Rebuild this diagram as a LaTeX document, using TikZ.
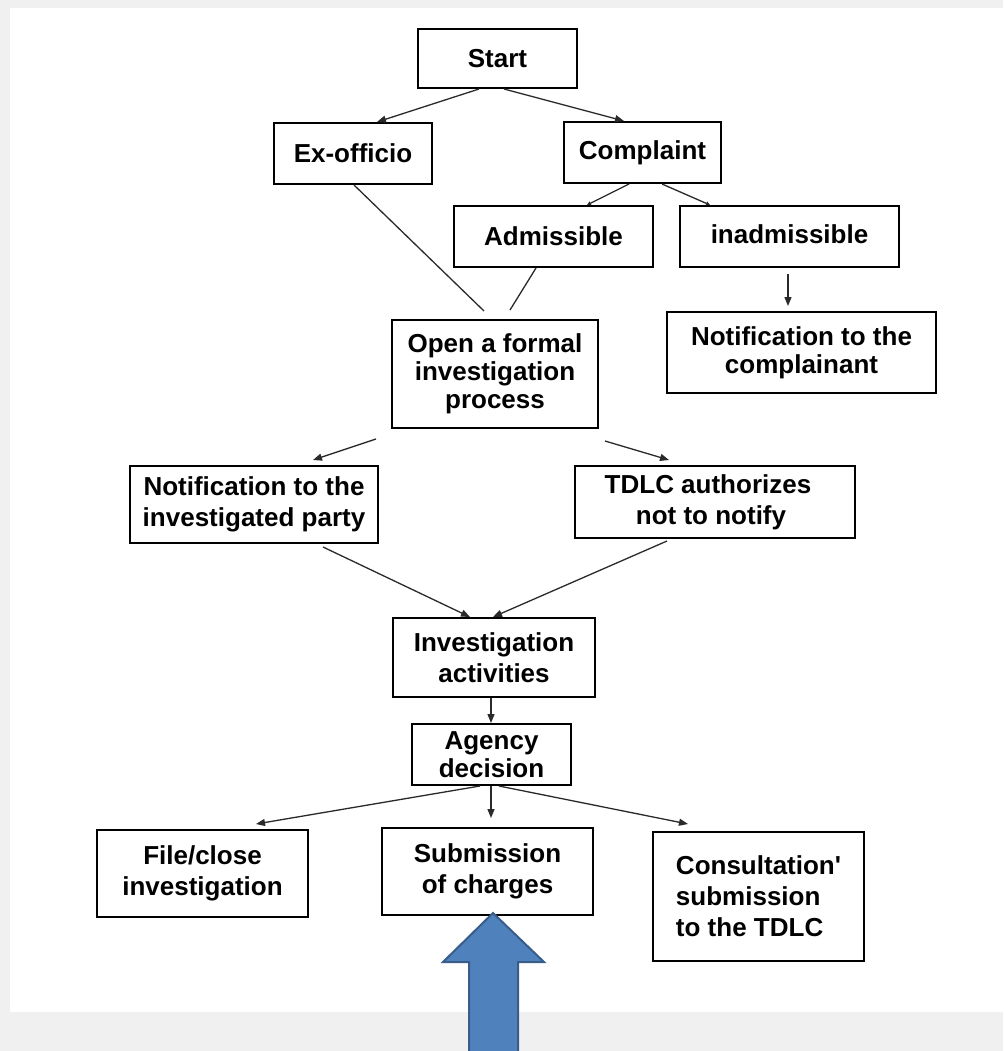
\documentclass[tikz,border=0pt]{standalone}
\usepackage{fontspec}
\setmainfont{Liberation Sans}
\usetikzlibrary{arrows.meta}
\definecolor{bggray}{HTML}{F0F0F0}
\definecolor{arrowfill}{HTML}{4F81BD}
\definecolor{arrowline}{HTML}{385D8A}
\definecolor{conn}{HTML}{2A2A2A}
\begin{document}
\begin{tikzpicture}[x=1pt,y=-1pt,
  box/.style={draw=black, line width=2pt, fill=white, inner sep=0pt, align=center,
    font=\fontsize{26}{31}\selectfont\bfseries},
  tight/.style={font=\fontsize{26}{28}\selectfont\bfseries},
  arr/.style={draw=conn, line width=1.3pt, -{Triangle[length=9pt,width=7pt]}},
  smallarr/.style={draw=conn, line width=1.3pt, -{Triangle[length=4pt,width=4pt]}},
  plain/.style={draw=conn, line width=1.3pt}]
\useasboundingbox (0,0) rectangle (1003,1051);
\fill[bggray] (0,0) rectangle (1003,1051);
\fill[white] (10,8) rectangle (1003,1012);

\node[box, minimum width=159pt, minimum height=59pt] (start) at (497.5,58.5) {Start};
\node[box, minimum width=158pt, minimum height=61pt] (exo) at (353,153.5) {Ex-officio};
\node[box, minimum width=157pt, minimum height=61pt] (comp) at (642.5,152.5) {Complaint};
\node[box, minimum width=199pt, minimum height=61pt] (adm) at (553.5,236.5) {Admissible};
\node[box, minimum width=219pt, minimum height=61pt] (inadm) at (789.5,236.5) {\raisebox{5pt}{inadmissible}};
\node[box, tight, minimum width=206pt, minimum height=108pt] (open) at (495,374) {Open a formal\\investigation\\process};
\node[box, tight, minimum width=269pt, minimum height=81pt] (notc) at (801.5,352.5) {Notification to the\\complainant};
\node[box, minimum width=248pt, minimum height=77pt] (notinv) at (254,504.5) {Notification to the\\investigated party};
\node[box, minimum width=280pt, minimum height=72pt] (tdlc) at (715,502) {TDLC authorizes\hspace*{14pt}\\not to notify\hspace*{8pt}};
\node[box, minimum width=202pt, minimum height=79pt] (invact) at (494,657.5) {Investigation\\activities};
\node[box, tight, minimum width=159pt, minimum height=61pt] (agency) at (491.5,754.5) {Agency\\decision};
\node[box, minimum width=211pt, minimum height=87pt] (file) at (202.5,873.5) {File/close\\investigation};
\node[box, minimum width=211pt, minimum height=87pt] (subm) at (487.5,871.5) {Submission\\of charges};
\node[box, minimum width=211pt, minimum height=129pt, align=left] (cons) at (758.5,896.5) {Consultation\textquotesingle\\submission\\to the TDLC};

\draw[arr] ([xshift=-18.5pt]start.south) -- ([xshift=24pt]exo.north);
\draw[arr] ([xshift=6.5pt]start.south) -- ([xshift=-18.5pt]comp.north);
\draw[smallarr] ([xshift=-13.5pt]comp.south) -- ([xshift=33.5pt]adm.north);
\draw[smallarr] ([xshift=19.5pt]comp.south) -- ([xshift=-79.5pt]inadm.north);
\draw[plain] ([xshift=1pt]exo.south) -- ([xshift=-11pt,yshift=8pt]open.north);
\draw[plain] ([xshift=-17.5pt]adm.south) -- ([xshift=15pt,yshift=9pt]open.north);
\draw[arr] ([xshift=-1.5pt,yshift=-6pt]inadm.south) -- ([xshift=-13.5pt,yshift=5pt]notc.north);
\draw[arr] ([xshift=-119pt,yshift=-10pt]open.south) -- ([xshift=59pt,yshift=5pt]notinv.north);
\draw[arr] ([xshift=110pt,yshift=-12pt]open.south) -- ([xshift=-46pt,yshift=5pt]tdlc.north);
\draw[arr] ([xshift=69pt,yshift=-3pt]notinv.south) -- ([xshift=-24pt]invact.north);
\draw[arr] ([xshift=-48pt,yshift=-2pt]tdlc.south) -- ([xshift=-1pt]invact.north);
\draw[arr] ([xshift=-3pt]invact.south) -- ([xshift=-0.5pt]agency.north);
\draw[arr] ([xshift=-11.5pt]agency.south) -- ([xshift=53.5pt,yshift=5pt]file.north);
\draw[arr] ([xshift=-0.5pt]agency.south) -- ([xshift=3.5pt,yshift=9pt]subm.north);
\draw[arr] ([xshift=7.5pt]agency.south) -- ([xshift=-70.5pt,yshift=7pt]cons.north);

\filldraw[fill=arrowfill, draw=arrowline, line width=2pt, line join=miter]
  (493,913) -- (544,962) -- (518,962) -- (518,1060) -- (469,1060) -- (469,962) -- (443,962) -- cycle;
\end{tikzpicture}
\end{document}
